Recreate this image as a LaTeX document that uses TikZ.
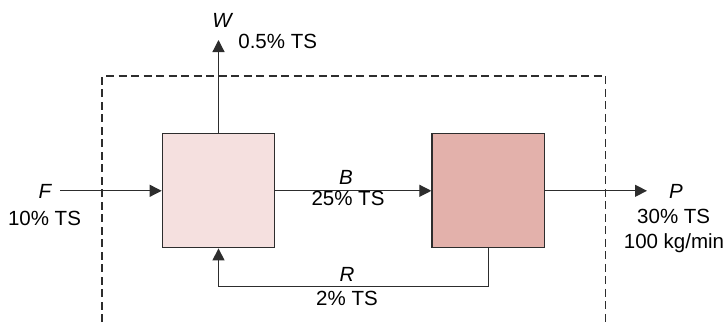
\documentclass[tikz,border=0pt]{standalone}
\usepackage{fontspec}
\setmainfont{Liberation Sans}
\usepackage{xcolor}
\definecolor{Col1}{RGB}{245,224,223}
\definecolor{Col2}{RGB}{227,177,171}
\definecolor{Col3}{RGB}{45,45,45}
\usetikzlibrary{arrows.meta}
\tikzstyle{Block}=[rectangle,draw=Col3,line width=1.2pt,minimum width=112.5pt,
minimum height=114pt,inner sep=0pt]
\tikzstyle{Edge}=[draw=Col3,line width=1.2pt]
\tikzstyle{Flow}=[Edge,-{Triangle[length=12pt,width=12pt]}]
\tikzstyle{Bound}=[draw=Col3,line width=1.2pt,dash pattern=on 8pt off 4.5pt]
\tikzstyle{NodeST}=[anchor=base,inner sep=0pt,font=\fontsize{20.5}{24}\selectfont]
\tikzstyle{NodeIT}=[NodeST,font=\fontsize{20.5}{24}\selectfont\itshape]

\begin{document}
\begin{tikzpicture}[x=1pt,y=-1pt]
        \useasboundingbox(0,0)rectangle(728,322);
        \draw[Bound](102,322)--(102,76)--(605.7,76)--(605.7,322);
        \node[Block,fill=Col1](1)at(218.5,190.8){};
        \node[Block,fill=Col2](2)at(488.2,190.8){};
        \coordinate(f)at(60,190.8);
        \coordinate(w)at(218.5,40);
        \coordinate(p)at(647,190.8);
        \draw[Flow](f)--(1);
        \draw[Flow](1)--(w);
        \draw[Flow](1)--(2);
        \draw[Flow](2)--(p);
        \draw[Flow](2.south)--++(0,37.7)-|(1.south);
        \node[NodeIT](F)at(45,198){F};
        \node[NodeST](F1)at(44.5,225){10\% TS};
        \node[NodeIT](W)at(222,27){W};
        \node[NodeST](W1)at(277.7,48.5){0.5\% TS};
        \node[NodeIT](B)at(346,184){B};
        \node[NodeST](B1)at(348,205){25\% TS};
        \node[NodeIT](P)at(676,198){P};
        \node[NodeST](P1)at(673.7,223){30\% TS};
        \node[NodeST](P2)at(674,248){100 kg/min};
        \node[NodeIT](R)at(347,281){R};
        \node[NodeST](R1)at(347,305){2\% TS};
    \end{tikzpicture}
\end{document}
